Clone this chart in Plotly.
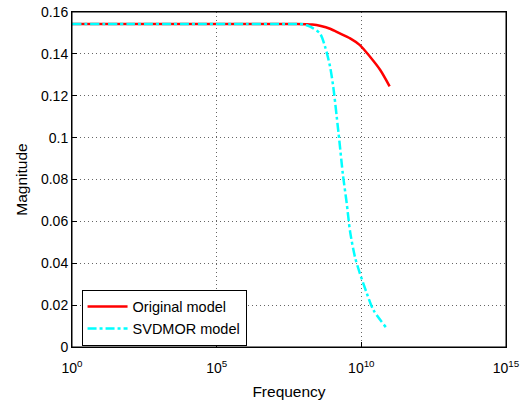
import plotly.graph_objects as go

# Original model
orig_freq = [1e0, 1e2, 1e4, 1e6, 1e7, 6e7, 2e8, 4e8, 8.3e8, 1.8e9, 4.1e9, 8.9e9, 2e10, 4.5e10, 9.5e10]
orig_mag = [0.1543, 0.1543, 0.1543, 0.1543, 0.1543, 0.1543, 0.1540, 0.1533, 0.1520, 0.1498, 0.1474, 0.1442, 0.1386, 0.1323, 0.1245]

# SVDMOR model
svd_freq = [1e0, 1e2, 1e4, 1e6, 3e7, 1e8, 1.7e8, 3.7e8, 5.6e8, 8.3e8, 1.07e9, 1.41e9, 1.74e9, 2.3e9, 3.1e9,
            4.1e9, 6e9, 8.9e9, 1.55e10, 2.6e10, 7e10]
svd_mag = [0.1543, 0.1543, 0.1543, 0.1543, 0.1543, 0.1541, 0.1530, 0.1498, 0.1434, 0.1339, 0.1243, 0.1100,
           0.0985, 0.0825, 0.0690, 0.0550, 0.0431, 0.0352, 0.0256, 0.0177, 0.0095]

x_tickvals = [1e0, 1e5, 1e10, 1e15]
x_ticktext = ["10<sup>0</sup>", "10<sup>5</sup>", "10<sup>10</sup>", "10<sup>15</sup>"]
y_tickvals = [0, 0.02, 0.04, 0.06, 0.08, 0.1, 0.12, 0.14, 0.16]
y_ticktext = ["0", "0.02", "0.04", "0.06", "0.08", "0.1", "0.12", "0.14", "0.16"]

FONT = "Liberation Sans, Arial, Helvetica, sans-serif"

fig = go.Figure()
fig.add_trace(go.Scatter(x=orig_freq, y=orig_mag, mode="lines", name="Original model",
                         line=dict(color="#ff0000", width=2.5, shape="spline", smoothing=0.8)))
fig.add_trace(go.Scatter(x=svd_freq, y=svd_mag, mode="lines", name="SVDMOR model",
                         line=dict(color="#00ffff", width=2.5, dash="dashdot", shape="spline", smoothing=0.8)))

axis_common = dict(showline=True, linecolor="black", linewidth=1, mirror=True,
                   ticks="inside", ticklen=5, tickcolor="black",
                   showgrid=True, gridcolor="#666666", griddash="1px,3px", gridwidth=1,
                   zeroline=False, automargin=False,
                   tickfont=dict(size=14, color="black", family=FONT))

fig.update_layout(
    width=528, height=402,
    margin=dict(l=72, r=22, t=12, b=55, autoexpand=False),
    paper_bgcolor="white", plot_bgcolor="white",
    font=dict(family=FONT, size=14, color="black"),
    xaxis=dict(type="log", range=[0, 15], tickvals=x_tickvals, ticktext=x_ticktext,
               ticklabelstandoff=8,
               title=dict(text="Frequency", font=dict(size=15.5), standoff=11), **axis_common),
    yaxis=dict(range=[0, 0.16], tickvals=y_tickvals, ticktext=y_ticktext,
               title=dict(text="Magnitude", font=dict(size=15.5), standoff=9), **axis_common),
    legend=dict(x=0.022, y=0.004, xanchor="left", yanchor="bottom",
                bgcolor="white", bordercolor="black", borderwidth=1,
                font=dict(size=14.5), tracegroupgap=0, itemwidth=40),
    showlegend=True,
)
fig.add_shape(type="rect", xref="paper", yref="paper", x0=0, y0=0, x1=1, y1=1,
              line=dict(color="black", width=1), layer="above")

fig.write_html("out.html", config={"displayModeBar": False},
               post_script="document.body.style.margin='0';document.body.style.overflow='hidden';")
